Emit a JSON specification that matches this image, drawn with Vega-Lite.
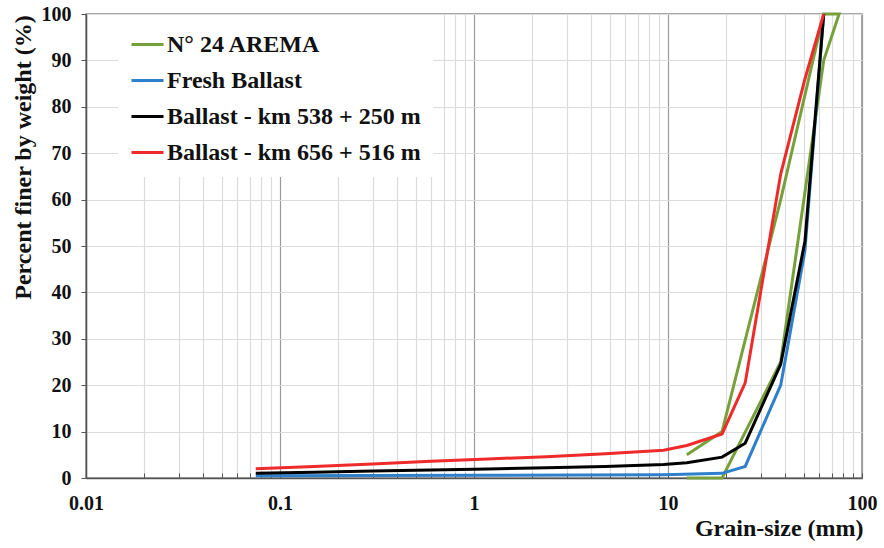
{
  "$schema": "https://vega.github.io/schema/vega-lite/v6.json",
  "width": 776,
  "height": 464,
  "autosize": "none",
  "padding": {"left": 86, "top": 14, "right": 22, "bottom": 70},
  "background": "white",
  "config": {
    "view": {"stroke": "#8a8a8a", "strokeWidth": 1.5},
    "font": "Liberation Serif"
  },
  "data": {
    "values": [
      {"series": "N° 24 AREMA", "seq": 1, "size": 12.5, "pct": 5},
      {"series": "N° 24 AREMA", "seq": 2, "size": 19, "pct": 10},
      {"series": "N° 24 AREMA", "seq": 3, "size": 38.1, "pct": 60},
      {"series": "N° 24 AREMA", "seq": 4, "size": 63.5, "pct": 100},
      {"series": "N° 24 AREMA", "seq": 5, "size": 76.2, "pct": 100},
      {"series": "N° 24 AREMA", "seq": 6, "size": 63.5, "pct": 90},
      {"series": "N° 24 AREMA", "seq": 7, "size": 38.1, "pct": 25},
      {"series": "N° 24 AREMA", "seq": 8, "size": 19, "pct": 0},
      {"series": "N° 24 AREMA", "seq": 9, "size": 12.5, "pct": 0},

      {"series": "Fresh Ballast", "seq": 1, "size": 0.075, "pct": 0.5},
      {"series": "Fresh Ballast", "seq": 2, "size": 1.18, "pct": 0.6},
      {"series": "Fresh Ballast", "seq": 3, "size": 9.5, "pct": 0.7},
      {"series": "Fresh Ballast", "seq": 4, "size": 19, "pct": 1.0},
      {"series": "Fresh Ballast", "seq": 5, "size": 25, "pct": 2.5},
      {"series": "Fresh Ballast", "seq": 6, "size": 38.1, "pct": 20},
      {"series": "Fresh Ballast", "seq": 7, "size": 50.8, "pct": 49},
      {"series": "Fresh Ballast", "seq": 8, "size": 63.5, "pct": 100},

      {"series": "Ballast - km 538 + 250 m", "seq": 1, "size": 0.075, "pct": 1.0},
      {"series": "Ballast - km 538 + 250 m", "seq": 2, "size": 0.15, "pct": 1.25},
      {"series": "Ballast - km 538 + 250 m", "seq": 3, "size": 0.3, "pct": 1.5},
      {"series": "Ballast - km 538 + 250 m", "seq": 4, "size": 0.6, "pct": 1.7},
      {"series": "Ballast - km 538 + 250 m", "seq": 5, "size": 1.18, "pct": 1.95},
      {"series": "Ballast - km 538 + 250 m", "seq": 6, "size": 2.36, "pct": 2.2},
      {"series": "Ballast - km 538 + 250 m", "seq": 7, "size": 4.75, "pct": 2.5},
      {"series": "Ballast - km 538 + 250 m", "seq": 8, "size": 9.5, "pct": 2.9},
      {"series": "Ballast - km 538 + 250 m", "seq": 9, "size": 12.5, "pct": 3.3},
      {"series": "Ballast - km 538 + 250 m", "seq": 10, "size": 19, "pct": 4.5},
      {"series": "Ballast - km 538 + 250 m", "seq": 11, "size": 25, "pct": 7.5},
      {"series": "Ballast - km 538 + 250 m", "seq": 12, "size": 38.1, "pct": 24.5},
      {"series": "Ballast - km 538 + 250 m", "seq": 13, "size": 50.8, "pct": 51},
      {"series": "Ballast - km 538 + 250 m", "seq": 14, "size": 63.5, "pct": 100},

      {"series": "Ballast - km 656 + 516 m", "seq": 1, "size": 0.075, "pct": 2.0},
      {"series": "Ballast - km 656 + 516 m", "seq": 2, "size": 0.15, "pct": 2.5},
      {"series": "Ballast - km 656 + 516 m", "seq": 3, "size": 0.3, "pct": 3.0},
      {"series": "Ballast - km 656 + 516 m", "seq": 4, "size": 0.6, "pct": 3.6},
      {"series": "Ballast - km 656 + 516 m", "seq": 5, "size": 1.18, "pct": 4.1},
      {"series": "Ballast - km 656 + 516 m", "seq": 6, "size": 2.36, "pct": 4.6},
      {"series": "Ballast - km 656 + 516 m", "seq": 7, "size": 4.75, "pct": 5.2},
      {"series": "Ballast - km 656 + 516 m", "seq": 8, "size": 9.5, "pct": 6.0},
      {"series": "Ballast - km 656 + 516 m", "seq": 9, "size": 12.5, "pct": 7.0},
      {"series": "Ballast - km 656 + 516 m", "seq": 10, "size": 19, "pct": 9.5},
      {"series": "Ballast - km 656 + 516 m", "seq": 11, "size": 25, "pct": 20.5},
      {"series": "Ballast - km 656 + 516 m", "seq": 12, "size": 38.1, "pct": 65.5},
      {"series": "Ballast - km 656 + 516 m", "seq": 13, "size": 50.8, "pct": 86},
      {"series": "Ballast - km 656 + 516 m", "seq": 14, "size": 63.5, "pct": 100}
    ]
  },
  "mark": {"type": "line", "strokeWidth": 3, "strokeJoin": "miter"},
  "encoding": {
    "x": {
      "field": "size",
      "type": "quantitative",
      "scale": {"type": "log", "domain": [0.01, 100], "nice": false},
      "axis": {
        "title": "Grain-size (mm)",
        "values": [0.01,0.02,0.03,0.04,0.05,0.06,0.07,0.08,0.09,0.1,0.2,0.3,0.4,0.5,0.6,0.7,0.8,0.9,1,2,3,4,5,6,7,8,9,10,20,30,40,50,60,70,80,90,100],
        "labelExpr": "datum.value == 0.01 ? '0.01' : datum.value == 0.1 ? '0.1' : datum.value == 1 ? '1' : datum.value == 10 ? '10' : datum.value == 100 ? '100' : ''",
        "grid": true,
        "gridColor": {"condition": {"test": "datum.value == 0.01 || datum.value == 0.1 || datum.value == 1 || datum.value == 10 || datum.value == 100", "value": "#9a9a9a"}, "value": "#dcdcdc"},
        "gridWidth": 1.2,
        "domainColor": "#555555",
        "domainWidth": 1.5,
        "ticks": true,
        "tickSize": -5,
        "tickColor": "#555555",
        "labelPadding": 30,
        "labelBaseline": "middle",
        "labelFont": "Liberation Serif",
        "labelFontWeight": "bold",
        "labelFontSize": 20,
        "labelColor": "#111111",
        "labelFlush": false,
        "labelOverlap": false,
        "titleFont": "Liberation Serif",
        "titleFontWeight": "bold",
        "titleFontSize": 24,
        "titleColor": "#111111",
        "titleAnchor": "end",
        "titleAlign": "right",
        "titleX": 777,
        "titleY": 50,
        "titleBaseline": "middle"
      }
    },
    "y": {
      "field": "pct",
      "type": "quantitative",
      "scale": {"domain": [0, 100], "nice": false},
      "axis": {
        "title": "Percent finer by weight (%)",
        "values": [0,10,20,30,40,50,60,70,80,90,100],
        "grid": true,
        "gridColor": "#dcdcdc",
        "gridWidth": 1.2,
        "domainColor": "#555555",
        "domainWidth": 1.5,
        "tickColor": "#555555",
        "tickSize": 5,
        "labelPadding": 10,
        "labelFont": "Liberation Serif",
        "labelFontWeight": "bold",
        "labelFontSize": 20,
        "labelColor": "#111111",
        "labelFlush": false,
        "titleFont": "Liberation Serif",
        "titleFontWeight": "bold",
        "titleFontSize": 24,
        "titleColor": "#111111",
        "titleAngle": -90,
        "titleAlign": "center",
        "titleBaseline": "middle",
        "titleX": -63,
        "titleY": 143
      }
    },
    "color": {
      "field": "series",
      "type": "nominal",
      "scale": {
        "domain": ["N° 24 AREMA", "Fresh Ballast", "Ballast - km 538 + 250 m", "Ballast - km 656 + 516 m"],
        "range": ["#76A03A", "#2E7FCC", "#000000", "#EE2A2A"]
      },
      "legend": {
        "title": null,
        "orient": "none",
        "legendX": 32,
        "legendY": 1,
        "fillColor": "white",
        "padding": 12,
        "symbolType": "stroke",
        "symbolSize": 1024,
        "symbolStrokeWidth": 3,
        "labelFont": "Liberation Serif",
        "labelFontWeight": "bold",
        "labelFontSize": 24,
        "labelColor": "#111111",
        "labelOffset": 2,
        "rowPadding": 6,
        "labelLimit": 400
      }
    },
    "order": {"field": "seq", "type": "quantitative"}
  }
}
